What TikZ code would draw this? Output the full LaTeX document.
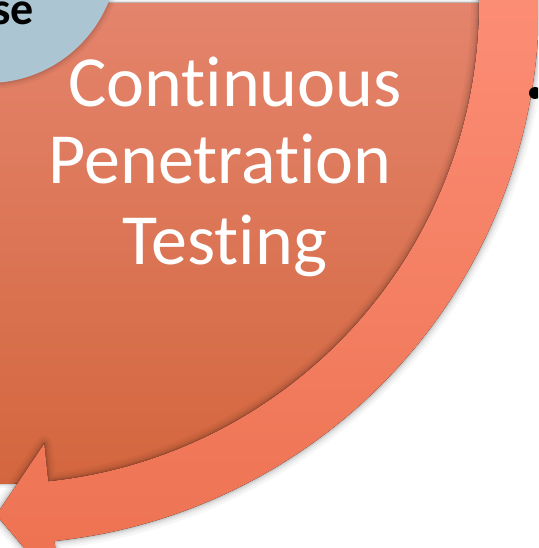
\documentclass[tikz,border=0pt]{standalone}
\usepackage{fontspec}
\setmainfont{Carlito}[Ligatures={NoCommon}]
\usetikzlibrary{calc}

\definecolor{wedgetop}{RGB}{228,132,108}
\definecolor{wedgebot}{RGB}{211,102,62}
\definecolor{arrowtop}{RGB}{255,146,124}
\definecolor{arrowbot}{RGB}{236,113,80}
\definecolor{hubblue}{RGB}{172,197,211}

\newcommand{\cyclearrow}{($(O)+(-12:541)$) arc[start angle=-12, end angle=84, radius=541]
    -- ($(O)+(84:590)$) -- ($(O)+(90.2:512)$) -- ($(O)+(84:443)$) -- ($(O)+(84:481)$)
    arc[start angle=84, end angle=-12, radius=481] -- cycle}

\begin{document}
\begin{tikzpicture}[x=1pt, y=-1pt,
    wedge/.style={top color=wedgetop, bottom color=wedgebot},
    band/.style={top color=arrowtop, bottom color=arrowbot},
    pentext/.style={text=white, inner sep=0pt, anchor=base, font=\fontsize{72}{72}\selectfont},
    hubtext/.style={text=black, inner sep=0pt, anchor=base east, font=\bfseries\fontsize{46}{46}\selectfont}]
    \useasboundingbox (0,0) rectangle (538,548);
    \clip (0,0) rectangle (538,548);

    \coordinate (O) at (-2,3);
    \coordinate (H) at (-12,-47);

    % quarter wedge
    \foreach \w/\o in {8/0.04, 4/0.06, 2/0.08}
    \draw[line width=\w pt, draw opacity=\o] (O) -- ($(O)+(0:481)$) arc[start angle=0, end angle=90, radius=481] -- cycle;
    \fill[wedge] (O) -- ($(O)+(0:481)$) arc[start angle=0, end angle=90, radius=481] -- cycle;

    % curved arrow
    \foreach \w/\o in {16/0.03, 11/0.04, 7/0.05, 4/0.06, 2/0.08}
    \draw[line width=\w pt, draw opacity=\o, line join=round, shift={(2,3)}] \cyclearrow;
    \fill[band] \cyclearrow;

    % centre circle
    \foreach \w/\o in {12/0.04, 7/0.05, 3/0.07}
    \draw[line width=\w pt, draw opacity=\o, shift={(1,3)}] (H) circle[radius=130];
    \fill[hubblue] (H) circle[radius=130];

    \node[hubtext] (hub) at (34,25) {se};
    \node[pentext] (cont) at (235,107) {Continuous};
    \node[pentext] (pene) at (220,183) {Penetration};
    \node[pentext] (test) at (225,264) {Testing};

    \node[circle, fill=black, inner sep=0pt, minimum size=12pt] (bullet) at (535,93) {};
\end{tikzpicture}
\end{document}
